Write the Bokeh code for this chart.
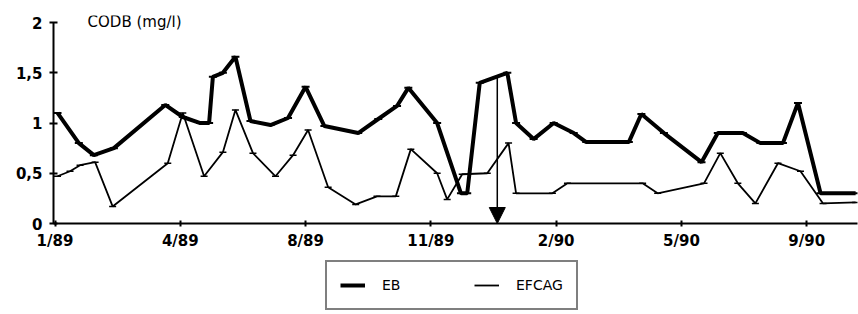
from bokeh.plotting import figure
from bokeh.layouts import column
from bokeh.models import Range1d, FixedTicker, Legend, LegendItem, Label, Arrow, NormalHead
from bokeh.embed import file_html
from bokeh.resources import INLINE

# x positions expressed in units of the evenly spaced axis ticks (0 = 1/89, 1 = 4/89, ...)
tick_pos = [0, 1, 2, 3, 4, 5, 6]
tick_labels = ["1/89", "4/89", "8/89", "11/89", "2/90", "5/90", "9/90"]

eb_x = [0.02, 0.19, 0.31, 0.47, 0.88, 1.02, 1.16, 1.23, 1.26, 1.34, 1.44, 1.56, 1.72, 1.86,
        2.00, 2.15, 2.42, 2.58, 2.73, 2.82, 3.05, 3.24, 3.29, 3.39, 3.61, 3.68, 3.82, 3.98,
        4.14, 4.24, 4.58, 4.68, 4.86, 5.16, 5.29, 5.49, 5.63, 5.81, 5.93, 6.11, 6.39]
eb_y = [1.10, 0.80, 0.68, 0.75, 1.18, 1.06, 1.00, 1.00, 1.46, 1.50, 1.66, 1.02, 0.98, 1.05,
        1.36, 0.97, 0.90, 1.04, 1.17, 1.35, 1.00, 0.30, 0.30, 1.40, 1.50, 1.00, 0.84, 1.00,
        0.90, 0.81, 0.81, 1.09, 0.90, 0.61, 0.90, 0.90, 0.80, 0.80, 1.20, 0.30, 0.30]

efcag_x = [0.02, 0.12, 0.20, 0.32, 0.46, 0.90, 1.02, 1.19, 1.34, 1.44, 1.58, 1.76, 1.90, 2.02,
           2.18, 2.40, 2.57, 2.72, 2.84, 3.05, 3.13, 3.25, 3.45, 3.62, 3.68, 3.97, 4.09, 4.69,
           4.81, 5.18, 5.31, 5.45, 5.59, 5.77, 5.95, 6.13, 6.39]
efcag_y = [0.47, 0.52, 0.58, 0.61, 0.17, 0.60, 1.10, 0.47, 0.71, 1.13, 0.70, 0.47, 0.68, 0.93,
           0.36, 0.19, 0.27, 0.27, 0.74, 0.50, 0.24, 0.49, 0.50, 0.80, 0.30, 0.30, 0.40, 0.40,
           0.30, 0.40, 0.70, 0.40, 0.20, 0.60, 0.52, 0.20, 0.21]

y_ticks = [0, 0.5, 1, 1.5, 2]
y_labels = ["0", "0,5", "1", "1,5", "2"]
series_names = ["EB", "EFCAG"]
title_text = "CODB  (mg/l)"

arrow_x = 3.53
arrow_top = 1.46

FONT = "DejaVu Sans"

p = figure(width=858, height=252, output_backend="svg", toolbar_location=None,
           x_range=Range1d(-0.012, 6.405), y_range=Range1d(0, 2.07),
           min_border_left=53, min_border_right=1, min_border_top=15, min_border_bottom=28)
p.outline_line_color = None
p.xgrid.visible = False
p.ygrid.visible = False
p.background_fill_color = "white"

eb_line = p.line(eb_x, eb_y, line_color="black", line_width=4)
p.scatter(eb_x, eb_y, marker="dash", size=8, line_color="black", line_width=2)
ef_line = p.line(efcag_x, efcag_y, line_color="black", line_width=1.8)
p.scatter(efcag_x, efcag_y, marker="dash", size=7, line_color="black", line_width=1.5)

p.add_layout(Arrow(end=NormalHead(size=16, fill_color="black", line_color="black"),
                   x_start=arrow_x, y_start=arrow_top, x_end=arrow_x, y_end=0,
                   line_color="black", line_width=1.5))

p.xaxis.ticker = FixedTicker(ticks=tick_pos)
p.xaxis.major_label_overrides = {t: l for t, l in zip(tick_pos, tick_labels)}
p.yaxis.ticker = FixedTicker(ticks=y_ticks)
p.yaxis.major_label_overrides = {t: l for t, l in zip(y_ticks, y_labels)}
p.yaxis.bounds = (0, 2)

for ax in (p.xaxis, p.yaxis):
    ax.axis_line_width = 2
    ax.axis_line_color = "black"
    ax.major_tick_line_color = "black"
    ax.major_tick_line_width = 2
    ax.minor_tick_line_color = None
    ax.major_label_text_font = FONT
    ax.major_label_text_font_style = "bold"
    ax.major_label_text_font_size = "15px"
    ax.major_label_text_color = "black"

p.xaxis.major_tick_in = 3
p.xaxis.major_tick_out = 3
p.xaxis.major_label_standoff = 5
p.yaxis.major_tick_in = 4
p.yaxis.major_tick_out = 4
p.yaxis.major_label_standoff = 7

p.add_layout(Label(x=0.26, y=1.92, text=title_text, text_font=FONT,
                   text_font_size="15px", text_color="black", text_baseline="bottom"))

# legend strip below the chart
lg = figure(width=858, height=62, output_backend="svg", toolbar_location=None,
            x_axis_type=None, y_axis_type=None, x_range=Range1d(0, 1), y_range=Range1d(0, 1),
            min_border_left=0, min_border_right=0, min_border_top=0, min_border_bottom=0)
lg.outline_line_color = None
lg.xgrid.visible = False
lg.ygrid.visible = False
nan = float("nan")
lg_eb = lg.line(x=[nan, nan], y=[nan, nan], line_color="black", line_width=4)
lg_ef = lg.line(x=[nan, nan], y=[nan, nan], line_color="black", line_width=1.8)

legend = Legend(items=[LegendItem(label=series_names[0], renderers=[lg_eb]),
                       LegendItem(label=series_names[1], renderers=[lg_ef])],
                orientation="horizontal", location=(272, 4))
legend.border_line_color = "black"
legend.border_line_width = 2
legend.padding = 13
legend.margin = 0
legend.spacing = 72
legend.glyph_width = 25
legend.glyph_height = 20
legend.label_standoff = 17
legend.label_text_font = FONT
legend.label_text_font_size = "14px"
legend.label_text_color = "black"
lg.add_layout(legend, "center")

layout = column(p, lg, spacing=0)

open("out.html", "w").write(file_html(layout, INLINE))
